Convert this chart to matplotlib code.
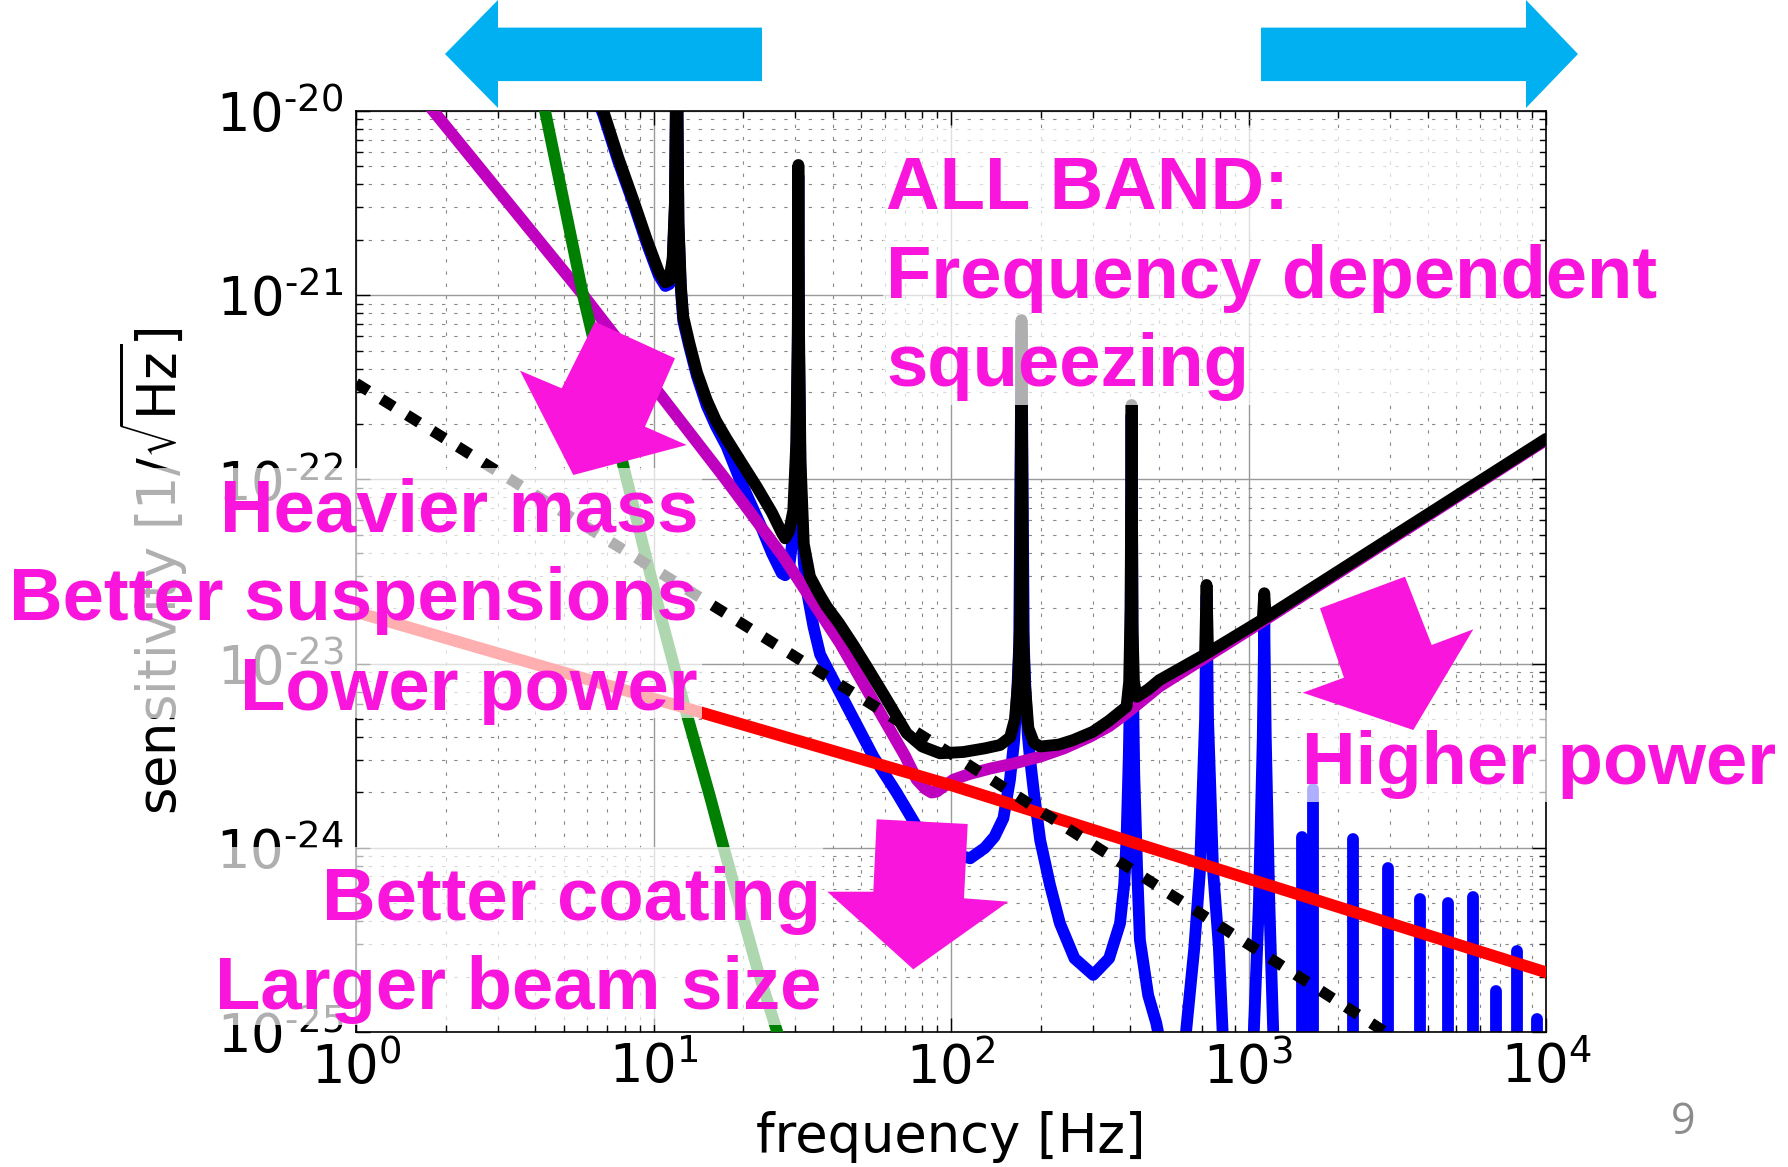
import matplotlib
matplotlib.use('Agg')
import matplotlib.pyplot as plt
from matplotlib.patches import Polygon, Rectangle
from matplotlib.ticker import FixedLocator, FixedFormatter, NullFormatter, LogLocator
import numpy as np

# ---------------- data ----------------
# frequencies in Hz, amplitudes given as log10 of the strain sensitivity
# total noise (black)
black_f = [6.31, 6.78, 7.6, 8.55, 9.5, 10.4, 10.96, 11.3, 11.6, 11.80, 11.97, 12.13, 12.36,
           12.59, 13.2, 14.0, 15.1, 16.2, 17.6, 19.5, 22.23, 25.0, 27.0, 27.7, 28.6, 29.5,
           30.2, 30.55, 30.69, 30.85, 31.2, 32.0, 33.57, 36.0, 38.19, 42.0, 47.0, 52.12,
           60.0, 70.96, 80.0, 91.83, 110, 130, 146.2, 158, 164.1, 168, 170.6, 172.6, 174.6,
           177, 182, 190, 199.5, 230, 257.6, 300, 340, 389, 397, 401.5, 404.6, 407.5, 412,
           421.7, 460, 501.2, 714.5, 722.8, 731.1, 1116.9, 1129.8, 1142.9, 10000]
black_logh = [-19.87, -20.0, -20.25, -20.483, -20.70, -20.87, -20.93, -20.92, -20.80, -20.5,
              -19.5, -20.6, -20.95, -21.117, -21.26, -21.42, -21.57, -21.68, -21.78, -21.895,
              -22.04, -22.18, -22.29, -22.32, -22.28, -22.17, -21.8, -21.2, -20.293, -21.2,
              -21.9, -22.35, -22.528, -22.62, -22.69, -22.78, -22.90, -23.017, -23.18,
              -23.378, -23.45, -23.487, -23.48, -23.46, -23.442, -23.40, -23.30, -23.10,
              -22.80, -21.135, -22.80, -23.10, -23.35, -23.43, -23.45, -23.44, -23.415,
              -23.37, -23.31, -23.234, -23.10, -22.70, -21.596, -22.80, -23.10, -23.18,
              -23.14, -23.09, -22.95, -22.573, -22.94, -22.76, -22.618, -22.75, -21.78]

# thermal noise (blue)
blue_f = [6.31, 6.78, 7.6, 8.55, 9.5, 10.4, 10.96, 11.3, 11.6, 11.80, 11.97, 12.13, 12.36,
          12.59, 13.2, 14.0, 15.1, 16.2, 17.6, 19.5, 22.91, 25.0, 27.0, 27.7, 28.6, 29.5,
          30.2, 30.55, 30.69, 30.85, 31.2, 32.0, 32.73, 34.5, 36.31, 44.67, 54.83, 65.6,
          76.74, 88.0, 100, 116, 130, 140, 150, 157.8, 163, 167, 169.5, 172.6, 175.7, 178,
          181, 184, 190, 199.5, 215, 232.3, 260, 300.6, 340, 370, 382, 389, 396, 401,
          404.6, 408, 413, 422, 431.5, 460, 490, 525, 582, 616.6, 657.7, 687.1, 714.5,
          722.8, 731.1, 760, 795, 818.5, 912, 1042, 1083.9, 1116.9, 1129.8, 1142.9, 1174.9,
          1216.2, 1300]
blue_logh = [-19.89, -20.02, -20.27, -20.50, -20.72, -20.89, -20.95, -20.94, -20.82, -20.52,
             -19.5, -20.62, -20.97, -21.14, -21.28, -21.44, -21.60, -21.71, -21.82, -22.0,
             -22.25, -22.40, -22.51, -22.52, -22.47, -22.30, -21.9, -21.3, -20.35, -21.3,
             -22.0, -22.45, -22.60, -22.80, -22.95, -23.23, -23.505, -23.70, -23.885, -23.98,
             -24.03, -24.057, -24.0, -23.94, -23.84, -23.632, -23.42, -23.15, -22.9, -21.2,
             -22.9, -23.15, -23.38, -23.505, -23.70, -23.96, -24.20, -24.41, -24.60, -24.69,
             -24.60, -24.41, -24.20, -23.96, -23.50, -23.00, -21.65, -23.00, -23.60, -24.10,
             -24.50, -24.80, -24.953, -25.2, -25.5, -25.0, -24.54, -24.12, -23.30, -22.63,
             -23.30, -24.12, -24.54, -25.0, -25.5, -25.0, -24.3, -23.4, -22.78, -23.4, -24.3,
             -25.1, -25.5]

# violin-mode harmonics (blue spikes)
violin_f = [1514, 1652, 2245, 2944, 3765, 4670, 5684, 6776, 8000, 9330]
violin_logh = [-23.94, -23.68, -23.95, -24.109, -24.276, -24.297, -24.266, -24.78, -24.56,
               -24.93]

# quantum noise (purple)
purple_f = [1.70, 1.82, 5.81, 17.2, 27.3, 42.4, 62.4, 70.0, 76.7, 82.0, 86.0, 89.5, 94.0,
            101.9, 115, 135.2, 165, 199.5, 240, 293, 340, 389, 440, 501.2, 1000, 10000]
purple_logh = [-19.94, -20.0, -21.0, -21.985, -22.42, -22.89, -23.36, -23.50, -23.63, -23.68,
               -23.70, -23.695, -23.67, -23.63, -23.60, -23.57, -23.54, -23.505, -23.46,
               -23.397, -23.34, -23.27, -23.20, -23.125, -22.82, -21.786]

# seismic noise (green)
green_f = [3.98, 4.32, 5.81, 7.93, 10.52, 12.91, 15.49, 17.18, 22.23, 25.94, 28.18]
green_logh = [-19.72, -20.0, -21.008, -21.931, -22.727, -23.27, -23.723, -23.994, -24.645,
              -24.99, -25.2]

# coating thermal noise (red)
red_f = [1, 100, 10000]
red_logh = [-22.72, -23.66, -24.676]

# standard quantum limit (black dashed)
sql_f = [1, 107.2, 10000]
sql_logh = [-21.478, -23.52, -25.56]

xtick_vals = [1, 10, 100, 1000, 10000]
xtick_labels = [r'$10^{0}$', r'$10^{1}$', r'$10^{2}$', r'$10^{3}$', r'$10^{4}$']
ytick_vals = [1e-25, 1e-24, 1e-23, 1e-22, 1e-21, 1e-20]
ytick_labels = [r'$10^{\text{-25}}$', r'$10^{\text{-24}}$', r'$10^{\text{-23}}$',
                r'$10^{\text{-22}}$', r'$10^{\text{-21}}$', r'$10^{\text{-20}}$']


def lin(v):
    return np.power(10.0, np.asarray(v, dtype=float))


# ---------------- figure ----------------
plt.rcParams['mathtext.fontset'] = 'dejavusans'
plt.rcParams['mathtext.default'] = 'regular'
plt.rcParams['font.family'] = ['DejaVu Sans']

W, H, DPI = 1788, 1167, 100
fig = plt.figure(figsize=(W / DPI, H / DPI), dpi=DPI)
fig.patch.set_facecolor('white')


def fx(x):
    return x / W


def fy(y):
    return 1 - y / H


ax = fig.add_axes([fx(356), fy(1032), (1546 - 356) / W, (1032 - 111) / H])
ax.set_xscale('log')
ax.set_yscale('log')
ax.set_xlim(1, 1e4)
ax.set_ylim(1e-25, 1e-20)

LW = 8.5
common = dict(lw=LW, solid_joinstyle='round', solid_capstyle='round')
ax.plot(blue_f, lin(blue_logh), color='#0000ff', zorder=2, **common)
ax.vlines(violin_f, 1e-26, lin(violin_logh), colors='#0000ff', lw=LW, zorder=2,
          capstyle='round')
ax.plot(purple_f, lin(purple_logh), color='#bf00bf', zorder=3, **common)
ax.plot(green_f, lin(green_logh), color='#008000', zorder=4, **common)
ax.plot(red_f, lin(red_logh), color='#ff0000', zorder=5, **common)
ax.plot(sql_f, lin(sql_logh), color='black', lw=8, linestyle=(0, (1.3, 1.4)),
        dash_capstyle='butt', zorder=6)
ax.plot(black_f, lin(black_logh), color='black', zorder=7, **common)

ax.xaxis.set_major_locator(FixedLocator(xtick_vals))
ax.xaxis.set_major_formatter(FixedFormatter(xtick_labels))
ax.yaxis.set_major_locator(FixedLocator(ytick_vals))
ax.yaxis.set_major_formatter(FixedFormatter(ytick_labels))
ax.xaxis.set_minor_locator(LogLocator(base=10, subs=np.arange(2, 10), numticks=100))
ax.yaxis.set_minor_locator(LogLocator(base=10, subs=np.arange(2, 10), numticks=100))
ax.xaxis.set_minor_formatter(NullFormatter())
ax.yaxis.set_minor_formatter(NullFormatter())

ax.set_axisbelow(True)
ax.grid(True, which='major', color='#999999', linestyle='-', linewidth=1.0)
ax.grid(True, which='minor', color='#888888', linestyle=(0, (3, 8)), linewidth=0.8)

ax.tick_params(which='both', direction='in', top=True, right=True, width=1, color='black')
ax.tick_params(which='major', length=10, labelsize=38)
ax.tick_params(which='minor', length=5)
ax.tick_params(axis='x', pad=7)
ax.tick_params(axis='y', pad=9)
for sp in ax.spines.values():
    sp.set_linewidth(1.2)
    sp.set_color('black')

ax.set_xlabel('frequency [Hz]', fontsize=38)
ax.xaxis.set_label_coords(0.5, -0.0858)
ax.set_ylabel(r'sensitivity [1/$\sqrt{\mathrm{Hz}}$]', fontsize=38)
ax.yaxis.set_label_coords(-0.1395, 0.5)

# ---------------- slide overlays ----------------
MAG = '#f915db'
CYAN = '#00b0f0'


def box(x0, y0, x1, y1):
    fig.add_artist(Rectangle((fx(x0), fy(y1)), (x1 - x0) / W, (y1 - y0) / H,
                             transform=fig.transFigure, facecolor='white',
                             edgecolor='none', alpha=0.69, zorder=10))


def poly(pts, color):
    fig.add_artist(Polygon([(fx(x), fy(y)) for x, y in pts], closed=True,
                           transform=fig.transFigure, facecolor=color,
                           edgecolor='none', zorder=11))


box(883, 128, 1540, 405)
box(0, 468, 702, 718)
box(205, 847, 823, 1025)
box(1299, 710, 1788, 802)

poly([(595, 321.7), (675, 358.3), (645, 426.7), (686.7, 445), (573.3, 475),
      (520, 370.7), (561.7, 388.3)], MAG)
poly([(876.7, 819.3), (967.7, 824), (964, 898.3), (1008.3, 901.7), (913.3, 969.3),
      (827.3, 891.7), (873.3, 891.7)], MAG)
poly([(1320, 608.3), (1405, 576.7), (1431.7, 645), (1473.3, 629.3), (1413.3, 730),
      (1302.7, 692.7), (1344, 677.7)], MAG)

poly([(762, 27.6), (498, 27.6), (498, 0), (445, 54), (498, 108), (498, 81.1),
      (762, 81.1)], CYAN)
poly([(1261, 27.6), (1526, 27.6), (1526, 0), (1578, 54), (1526, 108), (1526, 81.1),
      (1261, 81.1)], CYAN)

tkw = dict(fontsize=53.5, fontweight='bold', family=['Liberation Sans', 'DejaVu Sans'],
           color=MAG, va='baseline', zorder=12)
fig.text(fx(886), fy(208.6), 'ALL BAND:', ha='left', **tkw)
fig.text(fx(886), fy(298.5), 'Frequency dependent', ha='left', **tkw)
fig.text(fx(886), fy(386.5), 'squeezing', ha='left', **tkw)

fig.text(fx(698), fy(531.7), 'Heavier mass', ha='right', **tkw)
fig.text(fx(698), fy(620), 'Better suspensions', ha='right', **tkw)
fig.text(fx(698), fy(710), 'Lower power', ha='right', **tkw)

fig.text(fx(821), fy(920), 'Better coating', ha='right', **tkw)
fig.text(fx(821), fy(1009), 'Larger beam size', ha='right', **tkw)

fig.text(fx(1302), fy(783.8), 'Higher power', ha='left', **tkw)

fig.text(fx(1683), fy(1123), '9', fontsize=31, color='#8c8c8c',
         family=['Open Sans', 'DejaVu Sans'], ha='center', va='center', zorder=12)

fig.savefig('out.png', dpi=DPI, facecolor='white')
